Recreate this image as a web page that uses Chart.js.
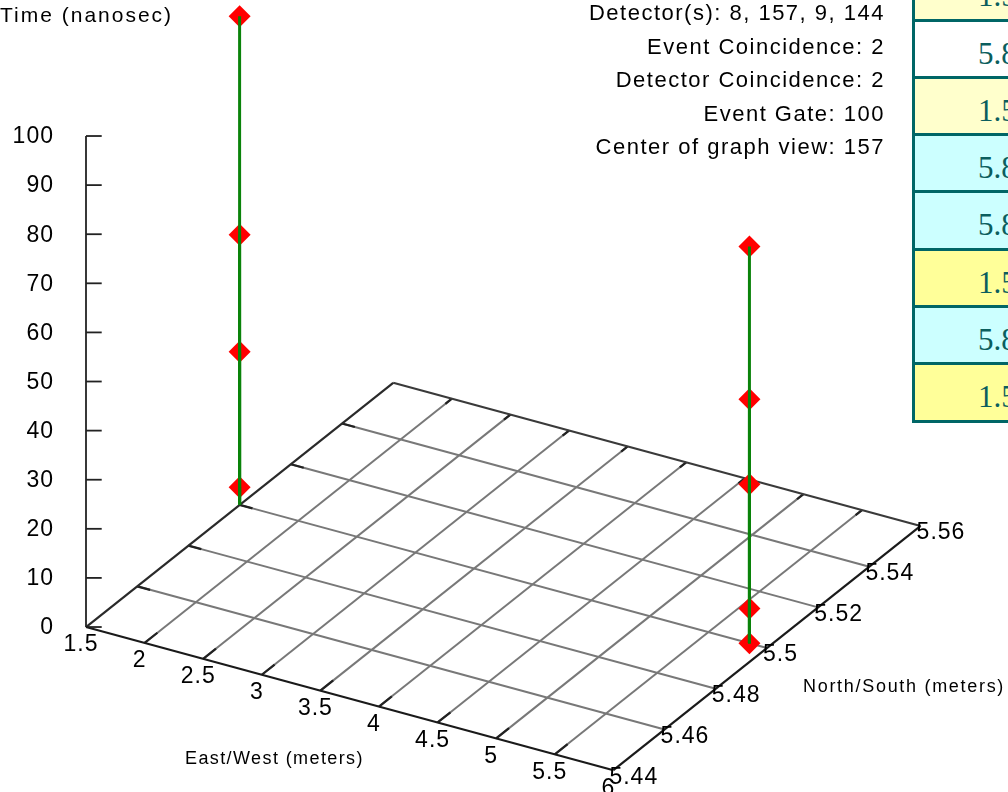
<!DOCTYPE html>
<html><head><meta charset="utf-8">
<script src="https://cdn.jsdelivr.net/npm/chart.js@4.4.0/dist/chart.umd.min.js"></script>
<style>
html,body{margin:0;padding:0;background:#fff;overflow:hidden}
#wrap{position:relative;width:1008px;height:792px;overflow:hidden;background:#fff}
#c{position:absolute;left:0;top:0}
.txt{position:absolute;font-family:"Liberation Sans",Arial,sans-serif;color:#000;white-space:nowrap}
#timeTitle{left:0;top:2px;font-size:21px;line-height:25px;letter-spacing:2px}
#info{right:123px;top:-4px;font-size:22px;line-height:33.5px;letter-spacing:1.5px;text-align:right}
#ewTitle{left:185px;top:747px;font-size:18px;line-height:22px;letter-spacing:1.4px}
#nsTitle{left:803px;top:675px;font-size:18px;line-height:22px;letter-spacing:1.7px}
#tbl{position:absolute;left:912px;width:200px;border-left:3px solid #006666}
.row{box-sizing:content-box;height:54.3px;border-top:3px solid #006666;font-family:"Liberation Serif","Times New Roman",serif;font-size:31px;line-height:54px;color:#0b5e5e;padding-left:63px;white-space:nowrap}
.row span{position:relative;top:5px}
.row.last{border-bottom:3px solid #006666}
</style></head><body>
<div id="wrap">
<canvas id="c" width="1008" height="792"></canvas>
<div class="txt" id="timeTitle">Time (nanosec)</div>
<div class="txt" id="info"></div>
<div class="txt" id="ewTitle">East/West (meters)</div>
<div class="txt" id="nsTitle">North/South (meters)</div>
<div id="tbl"></div>
</div>
<script>
// ---- data ----
const ewTicks = [1.5, 2, 2.5, 3, 3.5, 4, 4.5, 5, 5.5, 6];
const nsTicks = [5.44, 5.46, 5.48, 5.5, 5.52, 5.54, 5.56];
const timeTicks = [0, 10, 20, 30, 40, 50, 60, 70, 80, 90, 100];
const eventEW   = [1.5, 1.5, 1.5, 1.5, 5.85, 5.85, 5.85, 5.85, 5.85];
const eventNS   = [5.5, 5.5, 5.5, 5.5, 5.5, 5.5, 5.5, 5.5, 5.5];
const eventTime = [3.6, 31.2, 55.0, 99.5, 0, 7.1, 32.4, 49.7, 80.8];
const infoLines = ["Detector(s): 8, 157, 9, 144", "Event Coincidence: 2", "Detector Coincidence: 2", "Event Gate: 100", "Center of graph view: 157"];
const tableRowColors = ["#ccffff", "#ffffcc", "#ffffff", "#ffffcc", "#ccffff", "#ccffff", "#ffff99", "#ccffff", "#ffff99"];

// ---- view (oblique projection of the 3D box onto the 2D chart plane, in time units) ----
const VIEW = { ew0: 1.5, ns0: 5.44, ewX: 23.87, ewY: -6.48, nsX: 521.4, nsY: 414.5 };
function project(ew, ns, t) {
  const de = ew - VIEW.ew0, dn = ns - VIEW.ns0;
  return { x: de * VIEW.ewX + dn * VIEW.nsX, y: t + de * VIEW.ewY + dn * VIEW.nsY };
}
const ewMin = ewTicks[0], ewMax = ewTicks[ewTicks.length - 1];
const nsMin = nsTicks[0], nsMax = nsTicks[nsTicks.length - 1];

// ---- info text & table ----
document.getElementById('info').innerHTML = infoLines.map(s => '<div>' + s + '</div>').join('');
const order = eventTime.map((t, i) => i).sort((a, b) => eventTime[a] - eventTime[b]);
const tbl = document.getElementById('tbl');
const pitch = 57.3;
tbl.style.top = (18.5 - 2 * pitch) + 'px';
order.forEach((idx, r) => {
  const d = document.createElement('div');
  d.className = 'row' + (r === order.length - 1 ? ' last' : '');
  d.style.background = tableRowColors[r];
  d.innerHTML = '<span>' + eventEW[idx] + '</span>';
  tbl.appendChild(d);
});

// ---- datasets ----
const datasets = [];
function seg(p, q, color, width, ord) {
  datasets.push({ type: 'scatter', showLine: true, data: [p, q], borderColor: color, borderWidth: width,
    pointRadius: 0, pointHoverRadius: 0, fill: false, order: ord });
}
// stems (on top)
eventTime.forEach((t, i) => {
  seg(project(eventEW[i], eventNS[i], 0), project(eventEW[i], eventNS[i], t), '#0a830a', 3, 0);
});
// markers
datasets.push({ type: 'scatter', data: eventTime.map((t, i) => project(eventEW[i], eventNS[i], t)),
  pointStyle: 'rectRot', pointRadius: 11, pointHoverRadius: 11, backgroundColor: '#ff0000', borderWidth: 0, order: 1 });
// floor edges
seg(project(ewMin, nsMin, 0), project(ewMax, nsMin, 0), '#1a1a1a', 2.2, 2);
seg(project(ewMin, nsMin, 0), project(ewMin, nsMax, 0), '#2a2a2a', 2.2, 2);
seg(project(ewMin, nsMax, 0), project(ewMax, nsMax, 0), '#3a3a3a', 2.2, 2);
seg(project(ewMax, nsMin, 0), project(ewMax, nsMax, 0), '#1a1a1a', 2.2, 2);
// interior grid
const nsTickLen = (nsTicks[1] - nsTicks[0]) * 0.25, ewTickLen = (ewTicks[1] - ewTicks[0]) * 0.22;
ewTicks.slice(1, -1).forEach(ew => {
  seg(project(ew, nsMin, 0), project(ew, nsMax, 0), '#787878', 2, 4);
  seg(project(ew, nsMin, 0), project(ew, nsMin + nsTickLen, 0), '#222', 2.2, 3);
  seg(project(ew, nsMax, 0), project(ew, nsMax - nsTickLen * 0.5, 0), '#222', 2.2, 3);
});
nsTicks.slice(1, -1).forEach(ns => {
  seg(project(ewMin, ns, 0), project(ewMax, ns, 0), '#787878', 2, 4);
  seg(project(ewMin, ns, 0), project(ewMin + ewTickLen, ns, 0), '#222', 2.2, 3);
});
// vertical time axis
const o = project(ewMin, nsMin, 0);
seg({ x: o.x, y: timeTicks[0] }, { x: o.x, y: timeTicks[timeTicks.length - 1] }, '#222', 1.8, 2);
timeTicks.forEach(t => seg({ x: o.x, y: t }, { x: o.x + 3.2, y: t }, '#222', 1.8, 2));

// ---- tick labels plugin ----
const tickLabels = {
  id: 'tickLabels',
  afterDraw(chart) {
    const ctx = chart.ctx, sx = chart.scales.x, sy = chart.scales.y;
    const px = p => ({ x: sx.getPixelForValue(p.x), y: sy.getPixelForValue(p.y) });
    ctx.save();
    ctx.fillStyle = '#000';
    ctx.font = '23px "Liberation Sans", Arial, sans-serif';
    if ('letterSpacing' in ctx) ctx.letterSpacing = '1px';
    ctx.textBaseline = 'middle';
    ctx.textAlign = 'right';
    timeTicks.forEach(t => { const p = px({ x: o.x, y: t }); ctx.fillText(String(t), p.x - 32, p.y + 1); });
    ctx.textAlign = 'center';
    ewTicks.forEach(ew => { const p = px(project(ew, nsMin, 0)); ctx.fillText(String(ew), p.x - 5, p.y + 18); });
    ctx.textAlign = 'left';
    nsTicks.forEach(ns => { const p = px(project(ewMax, ns, 0)); ctx.fillText(String(ns), p.x - 4, p.y + 7); });
    ctx.restore();
  }
};

new Chart(document.getElementById('c'), {
  type: 'scatter',
  data: { datasets },
  options: {
    responsive: false, animation: false, events: [],
    layout: { padding: 0, autoPadding: false },
    plugins: { legend: { display: false }, tooltip: { enabled: false } },
    scales: {
      x: { type: 'linear', display: false, min: -17.515, max: 187.78 },
      y: { type: 'linear', display: false, min: -33.60, max: 127.70 }
    }
  },
  plugins: [tickLabels]
});
</script>
</body></html>
